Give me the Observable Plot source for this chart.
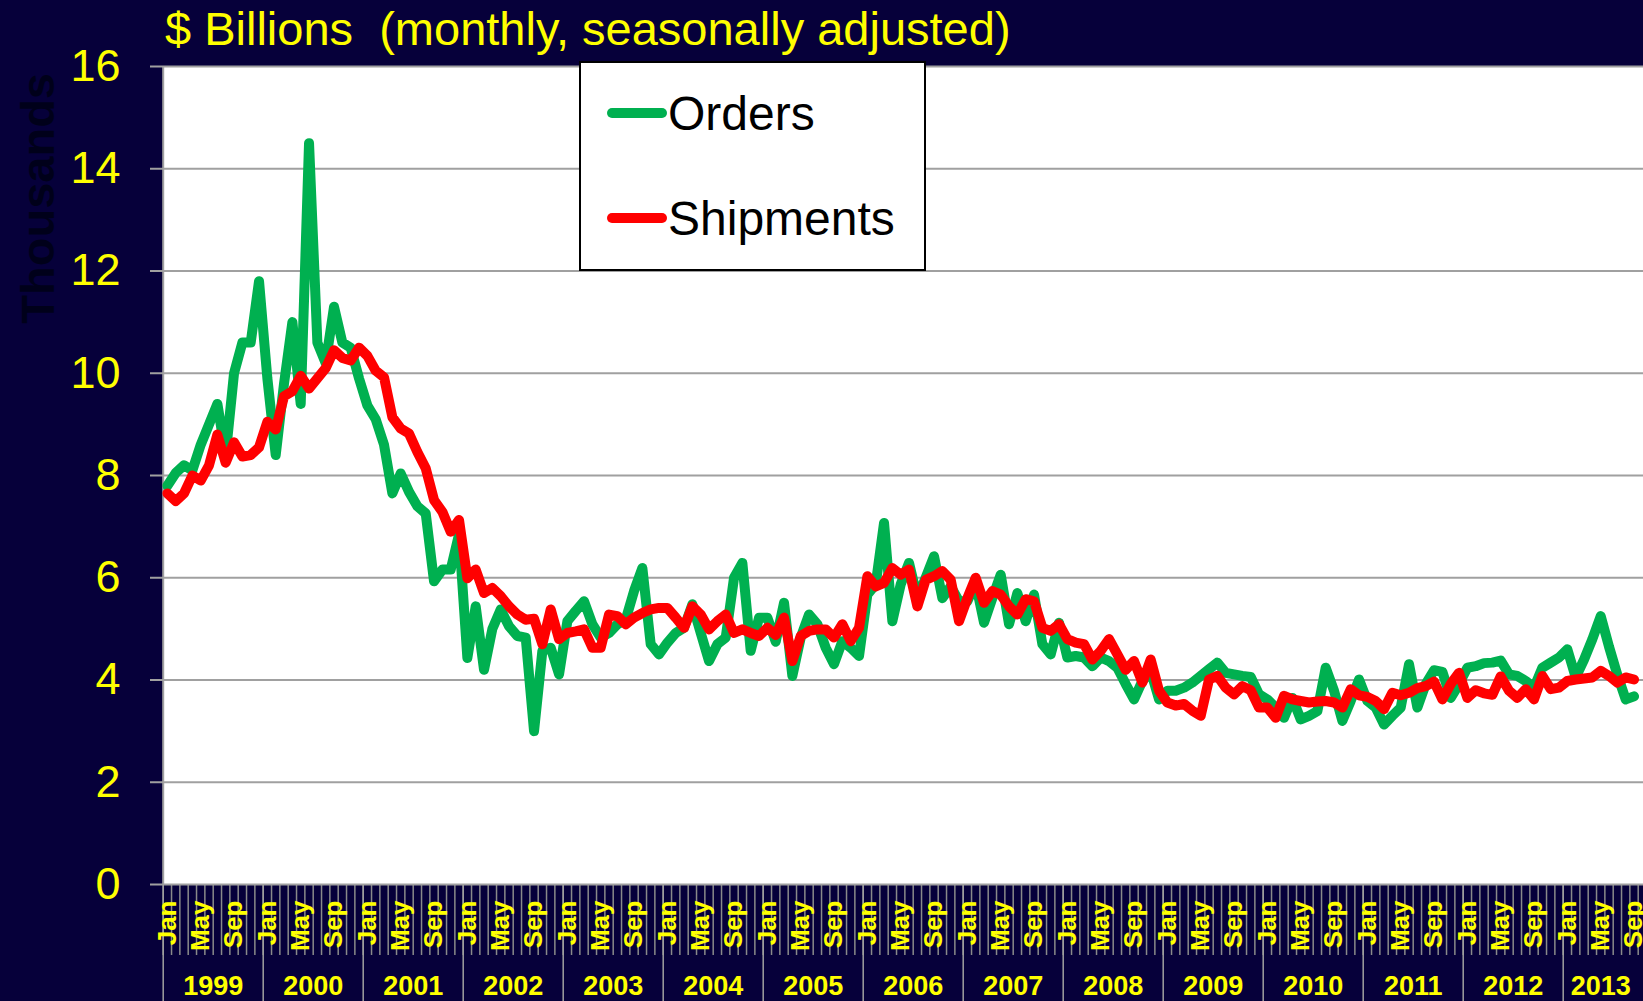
<!DOCTYPE html>
<html>
<head>
<meta charset="utf-8">
<script src="https://cdn.jsdelivr.net/npm/d3@7"></script>
<script src="https://cdn.jsdelivr.net/npm/@observablehq/plot@0.6"></script>
<style>
html, body { margin: 0; padding: 0; background: #06003a; }
#wrap { position: relative; width: 1643px; height: 1001px; overflow: hidden; background: #06003a;
        font-family: "Liberation Sans", Arial, sans-serif; }
#overlay { position: absolute; left: 0; top: 0; pointer-events: none; }
</style>
</head>
<body>
<div id="wrap"></div>
<script>
// ---------------- data ----------------
const years = [1999, 2000, 2001, 2002, 2003, 2004, 2005, 2006, 2007, 2008, 2009, 2010, 2011, 2012, 2013];
const monthNames = ["Jan", "Feb", "Mar", "Apr", "May", "Jun", "Jul", "Aug", "Sep", "Oct", "Nov", "Dec"];
const labeledMonths = ["Jan", "May", "Sep"];
const yTicks = [0, 2, 4, 6, 8, 10, 12, 14, 16];
const titleText = "$ Billions  (monthly, seasonally adjusted)";
const yLabel = "Thousands";
const seriesNames = ["Orders", "Shipments"];
const seriesColors = ["#00B050", "#FF0000"];

// monthly values, Jan 1999 - Sep 2013
const orders = [
  7.8, 8.05, 8.2, 8.1, 8.6, 9.0, 9.4, 8.4, 10.0, 10.6, 10.6, 11.8,        // 1999
  9.9, 8.4, 9.8, 11.0, 9.4, 14.5, 10.6, 10.2, 11.3, 10.6, 10.5, 9.9,      // 2000
  9.37, 9.1, 8.6, 7.65, 8.04, 7.68, 7.4, 7.26, 5.93, 6.16, 6.16, 6.85,    // 2001
  4.43, 5.44, 4.2, 5.0, 5.38, 5.05, 4.86, 4.83, 3.0, 4.57, 4.63, 4.11,    // 2002
  5.15, 5.35, 5.54, 5.09, 4.83, 4.92, 5.09, 5.18, 5.74, 6.19, 4.7, 4.5,   // 2003
  4.73, 4.92, 5.02, 5.48, 4.92, 4.37, 4.7, 4.83, 6.0, 6.29, 4.57, 5.22,   // 2004
  5.22, 4.75, 5.51, 4.08, 4.83, 5.28, 5.09, 4.63, 4.31, 4.76, 4.63, 4.47, // 2005
  5.67, 5.87, 7.07, 5.15, 5.87, 6.29, 5.6, 6.0, 6.42, 5.6, 5.83, 5.54,    // 2006
  5.54, 5.9, 5.12, 5.6, 6.06, 5.09, 5.7, 5.15, 5.67, 4.7, 4.5, 5.12,      // 2007
  4.44, 4.47, 4.44, 4.27, 4.44, 4.37, 4.24, 3.92, 3.62, 3.98, 4.18, 3.62, // 2008
  3.79, 3.79, 3.85, 3.95, 4.08, 4.21, 4.34, 4.14, 4.11, 4.08, 4.06, 3.72, // 2009
  3.62, 3.46, 3.26, 3.65, 3.23, 3.3, 3.39, 4.24, 3.79, 3.2, 3.59, 4.01,   // 2010
  3.59, 3.46, 3.13, 3.3, 3.46, 4.31, 3.46, 3.92, 4.19, 4.16, 3.65, 3.92,  // 2011
  4.24, 4.27, 4.33, 4.34, 4.38, 4.11, 4.08, 3.98, 3.85, 4.24, 4.34, 4.44, // 2012
  4.6, 4.05, 4.4, 4.8, 5.25, 4.65, 4.1, 3.62, 3.68                         // 2013
];
const shipments = [
  7.65, 7.5, 7.65, 8.0, 7.9, 8.2, 8.8, 8.25, 8.65, 8.37, 8.4, 8.55,       // 1999
  9.05, 8.9, 9.55, 9.65, 9.95, 9.7, 9.9, 10.1, 10.45, 10.3, 10.25, 10.5,  // 2000
  10.34, 10.05, 9.92, 9.14, 8.92, 8.82, 8.46, 8.14, 7.52, 7.29, 6.9, 7.13, // 2001
  5.99, 6.16, 5.7, 5.8, 5.64, 5.44, 5.28, 5.18, 5.2, 4.7, 5.38, 4.8,      // 2002
  4.92, 4.95, 4.99, 4.63, 4.63, 5.28, 5.25, 5.09, 5.22, 5.31, 5.38, 5.41, // 2003
  5.41, 5.22, 5.02, 5.44, 5.28, 4.99, 5.15, 5.28, 4.92, 4.99, 4.92, 4.86, // 2004
  5.02, 4.88, 5.22, 4.37, 4.86, 4.96, 4.99, 4.99, 4.83, 5.09, 4.76, 5.02, // 2005
  6.03, 5.83, 5.9, 6.19, 6.06, 6.16, 5.44, 5.96, 6.03, 6.13, 5.96, 5.15,  // 2006
  5.6, 6.0, 5.51, 5.74, 5.67, 5.44, 5.28, 5.58, 5.54, 5.02, 4.96, 5.09,   // 2007
  4.8, 4.73, 4.7, 4.4, 4.57, 4.8, 4.5, 4.2, 4.37, 3.95, 4.4, 3.79,        // 2008
  3.56, 3.5, 3.53, 3.4, 3.3, 4.01, 4.08, 3.85, 3.72, 3.88, 3.8, 3.46,     // 2009
  3.46, 3.26, 3.69, 3.62, 3.59, 3.56, 3.58, 3.59, 3.56, 3.46, 3.82, 3.7,  // 2010
  3.67, 3.59, 3.43, 3.75, 3.7, 3.75, 3.84, 3.88, 3.97, 3.62, 3.92, 4.14,  // 2011
  3.65, 3.8, 3.74, 3.71, 4.07, 3.79, 3.65, 3.82, 3.62, 4.08, 3.82, 3.85,  // 2012
  3.98, 4.01, 4.03, 4.05, 4.18, 4.08, 3.95, 4.05, 4.01                     // 2013
];

// ---------------- derived ----------------
const n = orders.length;
const monthIdx = d3.range(n);
const monthLabelTicks = monthIdx.filter(i => labeledMonths.includes(monthNames[i % 12])).map(i => i + 0.5);
const yearStarts = years.map((y, k) => k * 12);
const yearCenters = years.map((y, k) => (k * 12 + Math.min(n, (k + 1) * 12)) / 2);
const monthBounds = d3.range(n + 1);

// category axis: one category per month, 12 categories per 100px year block
const xLeft = 162.7;
const catWidth = 100 / 12;

const bg = "#06003a";
const yellow = "#FFFF00";
const gray = "#a0a0a0";
const font = "'Liberation Sans', Arial, sans-serif";

const chart = Plot.plot({
  width: 1643,
  height: 1001,
  marginLeft: 163,
  marginRight: 0,
  marginTop: 66,
  marginBottom: 117,
  style: { background: bg, fontFamily: font, overflow: "visible" },
  x: { type: "linear", domain: [0, n], range: [xLeft, xLeft + n * catWidth] },
  y: { type: "linear", domain: [0, 16] },
  marks: [
    Plot.frame({ fill: "white", stroke: "none" }),
    Plot.ruleY(yTicks.filter(v => v > 0), { stroke: gray, strokeWidth: 2 }),
    Plot.axisY({ ticks: yTicks, tickSize: 13, tickPadding: 30, fontSize: 45, fill: yellow,
                 stroke: gray, strokeWidth: 2, label: null, tickFormat: d => String(d) }),
    Plot.axisX({ ticks: monthBounds, tickSize: 71, stroke: "#8a8a8a", strokeWidth: 1.5,
                 fill: "none", label: null }),
    Plot.axisX({ ticks: yearStarts, tickSize: 117, stroke: gray, strokeWidth: 1.5,
                 fill: "none", label: null }),
    Plot.axisX({ ticks: monthLabelTicks, tickFormat: d => monthNames[Math.floor(d) % 12],
                 tickSize: 0, tickPadding: 16, tickRotate: -90, fontSize: 26, fontWeight: "bold",
                 fill: yellow, stroke: "none", label: null }),
    Plot.axisX({ ticks: yearCenters, tickFormat: d => String(years[yearCenters.indexOf(d)]),
                 tickSize: 0, tickPadding: 91, fontSize: 27, fontWeight: "bold",
                 fill: yellow, stroke: "none", label: null }),
    Plot.ruleX([0], { stroke: gray, strokeWidth: 2 }),
    Plot.ruleY([0], { stroke: gray, strokeWidth: 2 }),
    Plot.lineY(orders, { x: (d, i) => i + 0.5, y: d => d, stroke: seriesColors[0], strokeWidth: 10,
                         strokeLinejoin: "round", strokeLinecap: "round" }),
    Plot.lineY(shipments, { x: (d, i) => i + 0.5, y: d => d, stroke: seriesColors[1], strokeWidth: 10,
                            strokeLinejoin: "round", strokeLinecap: "round" })
  ]
});

const wrap = document.getElementById("wrap");
wrap.appendChild(chart);

// ---------------- title, axis title, legend ----------------
const ov = d3.select("#wrap").append("svg").attr("id", "overlay")
  .attr("width", 1643).attr("height", 1001).style("font-family", font);

ov.append("text")
  .attr("x", 165).attr("y", 45)
  .attr("fill", yellow).attr("font-size", 47)
  .attr("xml:space", "preserve").style("white-space", "pre")
  .text(titleText);

ov.append("text")
  .attr("transform", "translate(37,73) rotate(-90)")
  .attr("text-anchor", "end").attr("dy", "0.36em")
  .attr("font-size", 47).attr("font-weight", "bold")
  .attr("fill", "#00001a")
  .text(yLabel);

const lg = ov.append("g");
lg.append("rect").attr("x", 580).attr("y", 62).attr("width", 345).attr("height", 208)
  .attr("fill", "white").attr("stroke", "black").attr("stroke-width", 2);
const rowY = [113, 218];
seriesNames.forEach((name, k) => {
  lg.append("line").attr("x1", 612).attr("x2", 662).attr("y1", rowY[k]).attr("y2", rowY[k])
    .attr("stroke", seriesColors[k]).attr("stroke-width", 10).attr("stroke-linecap", "round");
  lg.append("text").attr("x", 668).attr("y", rowY[k]).attr("dy", "0.36em")
    .attr("font-size", 48).attr("fill", "black").text(name);
});
</script>
</body>
</html>
